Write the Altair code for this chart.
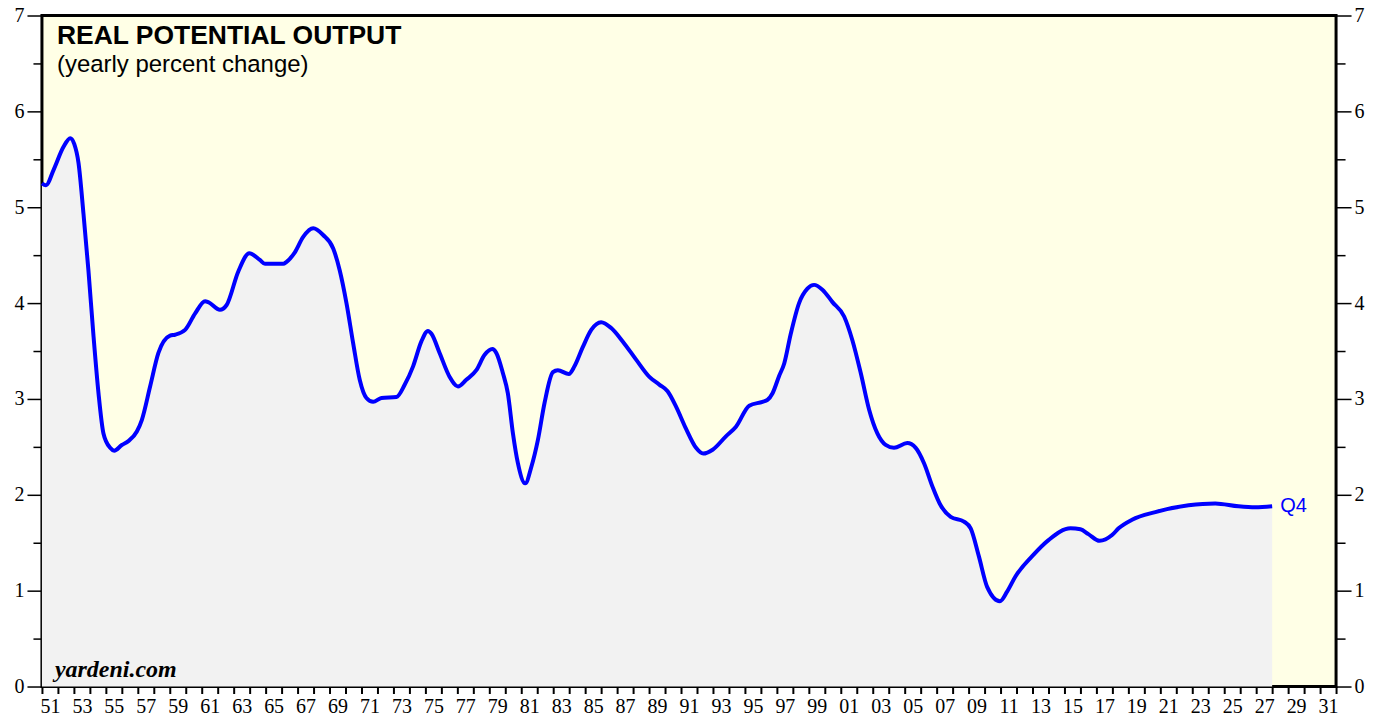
import altair as alt
import pandas as pd

years = [1951.0, 1951.25, 1951.73, 1952.35, 1952.77, 1953.02, 1953.29, 1953.6, 1953.91, 1954.23,
         1954.54, 1954.85, 1955.27, 1955.52, 1956.0, 1956.41, 1956.94, 1957.25, 1957.77, 1958.29,
         1959.02, 1959.33, 1959.96, 1960.58, 1961.21, 1961.41, 1962.14, 1962.56, 1963.29, 1963.98,
         1964.64, 1964.96, 1966.1, 1966.31, 1966.83, 1967.35, 1967.98, 1968.6, 1969.23, 1969.64,
         1970.06, 1970.48, 1970.89, 1971.31, 1971.73, 1972.25, 1973.19, 1973.71, 1974.23, 1974.75,
         1975.16, 1975.38, 1975.89, 1976.52, 1977.04, 1977.56, 1978.19, 1978.71, 1979.19, 1979.44,
         1979.85, 1980.16, 1980.48, 1980.79, 1981.25, 1981.63, 1982.04, 1982.46, 1982.98, 1983.29,
         1983.98, 1984.33, 1984.85, 1985.38, 1986.0, 1986.63, 1987.35, 1988.19, 1989.02, 1989.64,
         1990.16, 1990.69, 1991.31, 1991.94, 1992.39, 1992.98, 1993.81, 1994.44, 1995.27, 1996.1,
         1996.41, 1996.73, 1997.14, 1997.46, 1997.87, 1998.39, 1998.91, 1999.33, 1999.85, 2000.48,
         2001.21, 2001.73, 2002.25, 2002.77, 2003.29, 2003.81, 2004.33, 2005.16, 2005.69, 2006.21,
         2006.73, 2007.25, 2007.88, 2008.71, 2009.13, 2009.64, 2010.16, 2010.96, 2011.41, 2011.94,
         2012.98, 2014.02, 2015.38, 2016.0, 2016.5, 2017.2, 2017.98, 2018.39, 2019.23, 2020.69,
         2022.77, 2024.44, 2025.89, 2026.94, 2028.0]
values = [5.25, 5.23, 5.39, 5.63, 5.72, 5.66, 5.46, 4.93, 4.34, 3.65,
          3.06, 2.64, 2.49, 2.46, 2.52, 2.56, 2.66, 2.78, 3.13, 3.48,
          3.66, 3.67, 3.72, 3.89, 4.02, 4.01, 3.93, 3.98, 4.33, 4.52,
          4.45, 4.41, 4.41, 4.43, 4.53, 4.69, 4.78, 4.71, 4.57, 4.34,
          4.00, 3.58, 3.20, 3.01, 2.97, 3.01, 3.02, 3.15, 3.34, 3.60,
          3.71, 3.68, 3.48, 3.23, 3.13, 3.20, 3.30, 3.46, 3.52, 3.48,
          3.27, 3.06, 2.64, 2.33, 2.12, 2.29, 2.57, 2.96, 3.28, 3.30,
          3.26, 3.34, 3.54, 3.72, 3.80, 3.74, 3.60, 3.41, 3.23, 3.15,
          3.08, 2.92, 2.69, 2.49, 2.43, 2.47, 2.61, 2.71, 2.93, 2.97,
          2.99, 3.06, 3.24, 3.37, 3.68, 4.00, 4.15, 4.19, 4.14, 4.01,
          3.86, 3.61, 3.27, 2.89, 2.64, 2.52, 2.49, 2.54, 2.49, 2.33,
          2.09, 1.89, 1.77, 1.72, 1.65, 1.36, 1.04, 0.89, 0.99, 1.15,
          1.36, 1.53, 1.65, 1.64, 1.59, 1.52, 1.58, 1.65, 1.74, 1.82,
          1.89, 1.91, 1.88, 1.87, 1.88]

x_tick_years = list(range(1951, 2033))
y_tick_values = [v / 2 for v in range(0, 15)]

title_text = "REAL POTENTIAL OUTPUT"
subtitle_text = "(yearly percent change)"
source_text = "yardeni.com"
last_label = "Q4"

df = pd.DataFrame({"year": years, "value": values})

x_enc = alt.X(
    "year:Q",
    scale=alt.Scale(domain=[1951, 2032], nice=False, zero=False),
    axis=alt.Axis(
        values=x_tick_years, tickSize=7, tickWidth=2, tickColor="black",
        domain=False, grid=False, title=None,
        labelExpr="datum.value % 2 == 1 ? format(datum.value % 100, '02d') : ''",
        labelOffset=8, labelFont="Liberation Serif", labelFontSize=20, labelColor="black",
        labelPadding=3, labelOverlap=False, labelFlush=False,
    ),
)
yscale = alt.Scale(domain=[0, 7], nice=False, zero=True)

def y_axis(orient):
    return alt.Axis(
        orient=orient, values=y_tick_values,
        tickSize={"condition": {"test": "datum.value % 1 === 0", "value": 15}, "value": 9},
        tickWidth=1.5, tickColor="black", domain=False, grid=False, title=None,
        labelExpr="datum.value % 1 === 0 ? format(datum.value, 'd') : ''",
        labelFont="Liberation Serif", labelFontSize=20, labelColor="black",
        labelPadding=3, labelFlush=False, labelOverlap=False,
    )

base = alt.Chart(df)
area = base.mark_area(color="#F2F2F2", interpolate="monotone").encode(
    x=x_enc, y=alt.Y("value:Q", scale=yscale, axis=y_axis("left"))
)
line = base.mark_line(color="#0000FF", strokeWidth=4, interpolate="monotone").encode(
    x=x_enc, y=alt.Y("value:Q", scale=yscale, axis=y_axis("right"))
)

last = pd.DataFrame({"year": [years[-1]], "value": [values[-1]], "lab": [last_label]})
q4 = alt.Chart(last).mark_text(
    align="left", baseline="middle", dx=8, font="Liberation Sans", fontSize=20, color="#0000FF"
).encode(x=x_enc, y=alt.Y("value:Q", scale=yscale, axis=None), text="lab:N")

title = alt.Chart(pd.DataFrame({"t": [title_text]})).mark_text(
    align="left", baseline="alphabetic", font="Liberation Sans", fontWeight="bold", fontSize=26.5, color="black"
).encode(x=alt.value(15), y=alt.value(29), text="t:N")
subtitle = alt.Chart(pd.DataFrame({"t": [subtitle_text]})).mark_text(
    align="left", baseline="alphabetic", font="Liberation Sans", fontSize=24, color="black"
).encode(x=alt.value(15), y=alt.value(57), text="t:N")
source = alt.Chart(pd.DataFrame({"t": [source_text]})).mark_text(
    align="left", baseline="alphabetic", font="Liberation Serif", fontWeight="bold", fontStyle="italic",
    fontSize=24, color="black"
).encode(x=alt.value(13), y=alt.value(662), text="t:N")

chart = alt.layer(area, line, q4, title, subtitle, source).resolve_axis(
    y="independent"
).properties(
    width=1296, height=672,
    autosize=alt.AutoSizeParams(type="none"),
    padding={"left": 34, "top": 7, "right": 40, "bottom": 30},
    background="white",
).configure_view(
    fill="#FFFFE6", stroke="black", strokeWidth=3
)

chart.save("out.html", embed_options={"renderer": "svg", "actions": False})
